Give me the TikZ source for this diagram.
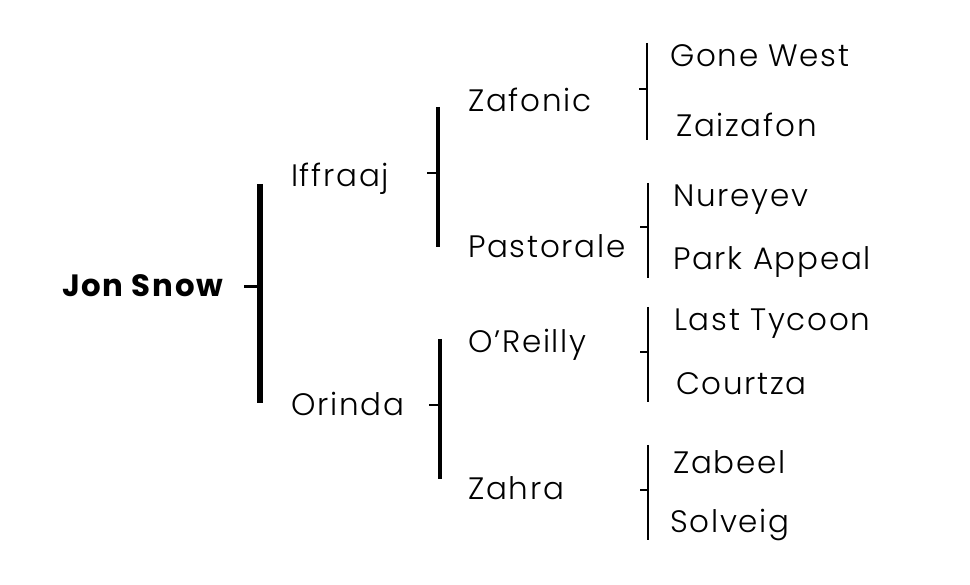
\documentclass[tikz,border=0pt]{standalone}
\usepackage{fontspec}
\setmainfont{Poppins}[UprightFont=* Light, BoldFont=* Bold, LetterSpace=5.5]
\begin{document}
\begin{tikzpicture}[x=1pt,y=-1pt,
  pname/.style={anchor=base west,inner sep=0pt,font=\fontsize{31}{36}\selectfont},
  proot/.style={pname,font=\fontsize{30.8}{36}\selectfont\bfseries},
  barA/.style={line width=6pt},
  barB/.style={line width=4pt},
  barC/.style={line width=2.6pt},
  tickA/.style={line width=3pt},
  tickB/.style={line width=2.2pt},
  tickC/.style={line width=1.6pt}]
\useasboundingbox (0,0) rectangle (970,585);
% names
\node[proot] (jon) at (62,297) {Jon Snow};
\node[pname] (iff) at (291,187) {Iffraaj};
\node[pname] (ori) at (291,416) {Orinda};
\node[pname] (zaf) at (468,112) {Zafonic};
\node[pname] (pas) at (468,258) {Pastorale};
\node[pname] (ore) at (468,353) {O’Reilly};
\node[pname] (zah) at (468,500) {Zahra};
\node[pname] (gw) at (670,67) {Gone West};
\node[pname] (zz) at (676,137) {Zaizafon};
\node[pname] (nur) at (673,207) {Nureyev};
\node[pname] (pa) at (673,270) {Park Appeal};
\node[pname] (lt) at (674,331) {Last Tycoon};
\node[pname] (ct) at (676,395) {Courtza};
\node[pname] (zb) at (673,474) {Zabeel};
\node[pname] (sv) at (670,532) {Solveig};
% bars
\coordinate (b1t) at (260,184); \coordinate (b1b) at (260,403); \coordinate (b1m) at (260,287); \coordinate (t1) at (244,287);
\draw[barA] (b1t) -- (b1b);
\draw[tickA] (t1) -- (b1m);
\coordinate (b2t) at (438,107); \coordinate (b2b) at (438,247); \coordinate (b2m) at (438,173); \coordinate (t2) at (427,173);
\draw[barB] (b2t) -- (b2b);
\draw[tickB] (t2) -- (b2m);
\coordinate (b3t) at (440,339); \coordinate (b3b) at (440,479); \coordinate (b3m) at (440,405); \coordinate (t3) at (429,405);
\draw[barB] (b3t) -- (b3b);
\draw[tickB] (t3) -- (b3m);
\coordinate (c1t) at (647,43); \coordinate (c1b) at (647,140); \coordinate (c1m) at (647,89); \coordinate (u1) at (639,89);
\draw[barC] (c1t) -- (c1b);
\draw[tickC] (u1) -- (c1m);
\coordinate (c2t) at (648,183); \coordinate (c2b) at (648,278); \coordinate (c2m) at (648,227); \coordinate (u2) at (640,227);
\draw[barC] (c2t) -- (c2b);
\draw[tickC] (u2) -- (c2m);
\coordinate (c3t) at (648,307); \coordinate (c3b) at (648,402); \coordinate (c3m) at (648,352); \coordinate (u3) at (640,352);
\draw[barC] (c3t) -- (c3b);
\draw[tickC] (u3) -- (c3m);
\coordinate (c4t) at (648,445); \coordinate (c4b) at (648,540); \coordinate (c4m) at (648,490); \coordinate (u4) at (640,490);
\draw[barC] (c4t) -- (c4b);
\draw[tickC] (u4) -- (c4m);
\end{tikzpicture}
\end{document}
